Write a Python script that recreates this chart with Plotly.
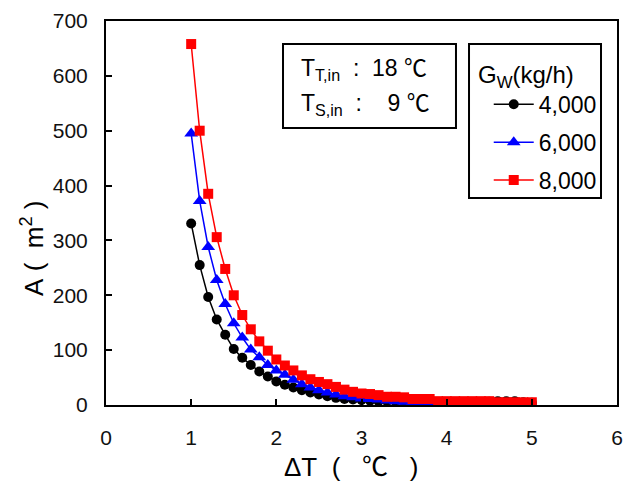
import plotly.graph_objects as go

# Temperature difference ΔT (℃), 1.0 to 5.0 in steps of 0.1
delta_t = [1.0, 1.1, 1.2, 1.3, 1.4, 1.5, 1.6, 1.7, 1.8, 1.9,
           2.0, 2.1, 2.2, 2.3, 2.4, 2.5, 2.6, 2.7, 2.8, 2.9,
           3.0, 3.1, 3.2, 3.3, 3.4, 3.5, 3.6, 3.7, 3.8, 3.9,
           4.0, 4.1, 4.2, 4.3, 4.4, 4.5, 4.6, 4.7, 4.8, 4.9, 5.0]

# Required heat-exchange area A (m²) for each water flow rate
area_4000 = [331, 255, 197, 156, 128, 102, 86, 73, 61, 52,
             43, 37, 32, 27, 23, 19, 16, 13, 11, 10,
             9, 8, 7, 7, 6, 6, 5, 5, 5, 5,
             5, 5, 5, 5, 5, 6, 7, 7, 7, 5, 4]
area_6000 = [495, 372, 288, 228, 184, 149, 123, 101, 87, 73,
             63, 55, 46, 38, 32, 27, 23, 19, 16, 14,
             12, 11, 10, 8, 7, 6, 5, 4, 4, 3,
             3, 2, 1, 1, 1, 1, 1, 1, 1, 1, 1]
area_8000 = [658, 500, 385, 306, 248, 200, 164, 138, 116, 99,
             83, 72, 63, 54, 47, 42, 38, 33, 28, 24,
             21, 20, 18, 15, 15, 14, 11, 11, 11, 7,
             7, 7, 7, 7, 7, 7, 5, 5, 5, 5, 5]

series_names = ["4,000", "6,000", "8,000"]
series_colors = ["#000000", "#0000ff", "#ff0000"]
series_symbols = ["circle", "triangle-up", "square"]
series_sizes = [10, 12, 10]
series_values = [area_4000, area_6000, area_8000]

FONT = "Liberation Sans, Arial, Noto Sans CJK KR, sans-serif"
DEG_C = "<span style=\"font-family:'Noto Sans CJK KR'\">℃</span>"
SP = "\u00a0"

fig = go.Figure()
for name, color, symbol, size, values in zip(series_names, series_colors,
                                             series_symbols, series_sizes,
                                             series_values):
    fig.add_trace(go.Scatter(
        x=delta_t, y=values, name=name, mode="lines+markers",
        legendgroup=name,
        line=dict(color=color, width=1.5),
        marker=dict(symbol=symbol, size=size, color=color,
                    line=dict(width=0)),
    ))

axis_common = dict(
    showline=True, linecolor="black", linewidth=2, mirror=True,
    ticks="inside", ticklen=6, tickwidth=1.5, tickcolor="black",
    showgrid=False, zeroline=False, automargin=False,
    tickfont=dict(family=FONT, size=21, color="#111111"),
)

fig.update_layout(
    width=630, height=482,
    margin=dict(l=106, r=13, t=21, b=77),
    paper_bgcolor="white", plot_bgcolor="white",
    font=dict(family=FONT, color="black"),
    xaxis=dict(range=[0, 6], dtick=1, ticklabelstandoff=13, **axis_common),
    yaxis=dict(range=[0, 700], dtick=100, ticklabelstandoff=12, **axis_common),
    legend=dict(
        x=0.749, y=0.839, xanchor="left", yanchor="top",
        bgcolor="rgba(0,0,0,0)", borderwidth=0,
        font=dict(family=FONT, size=23),
        tracegroupgap=5, itemwidth=40,
    ),
    showlegend=True,
)

# Axis titles
fig.add_annotation(
    xref="paper", yref="paper", x=0.4795, y=-0.156,
    xanchor="center", yanchor="middle",
    text=f"ΔT{SP}{SP}({SP}{SP}{SP}{DEG_C}{SP}{SP}{SP})",
    font=dict(family=FONT, size=26, color="black"), showarrow=False,
)
fig.add_annotation(
    xref="paper", yref="paper", x=-0.1429, y=0.409,
    xanchor="center", yanchor="middle", textangle=-90,
    text=f"A{SP}({SP}{SP}m<sup>2</sup>{SP})",
    font=dict(family=FONT, size=26, color="black"), showarrow=False,
)

# Frames around the inlet-temperature note and the legend
fig.add_shape(type="rect", xref="paper", yref="paper",
              x0=0.3464, x1=0.6849, y0=0.7214, y1=0.9401,
              line=dict(color="black", width=2), fillcolor="white", layer="above")
fig.add_shape(type="rect", xref="paper", yref="paper",
              x0=0.7104, x1=0.9687, y0=0.5391, y1=0.9401,
              line=dict(color="black", width=2), fillcolor="rgba(0,0,0,0)",
              layer="above")

# Legend heading
fig.add_annotation(
    xref="paper", yref="paper", x=0.7241, y=0.8542,
    xanchor="left", yanchor="middle", align="left",
    text="G<sub>W</sub>(kg/h)", font=dict(family=FONT, size=24, color="black"),
    showarrow=False,
)

note_lines = [
    f"T<sub>T,in</sub>{SP}{SP}:{SP}{SP}18{SP}{DEG_C}",
    f"T<sub>S,in</sub>{SP}{SP}:{SP}{SP}{SP}{SP}9{SP}{DEG_C}",
]
note_y = [0.8828, 0.7891]
for line_text, yy in zip(note_lines, note_y):
    fig.add_annotation(
        xref="paper", yref="paper", x=0.3777, y=yy,
        xanchor="left", yanchor="middle", align="left",
        text=line_text, font=dict(family=FONT, size=23, color="black"),
        showarrow=False,
    )

fig.write_html("out.html")
